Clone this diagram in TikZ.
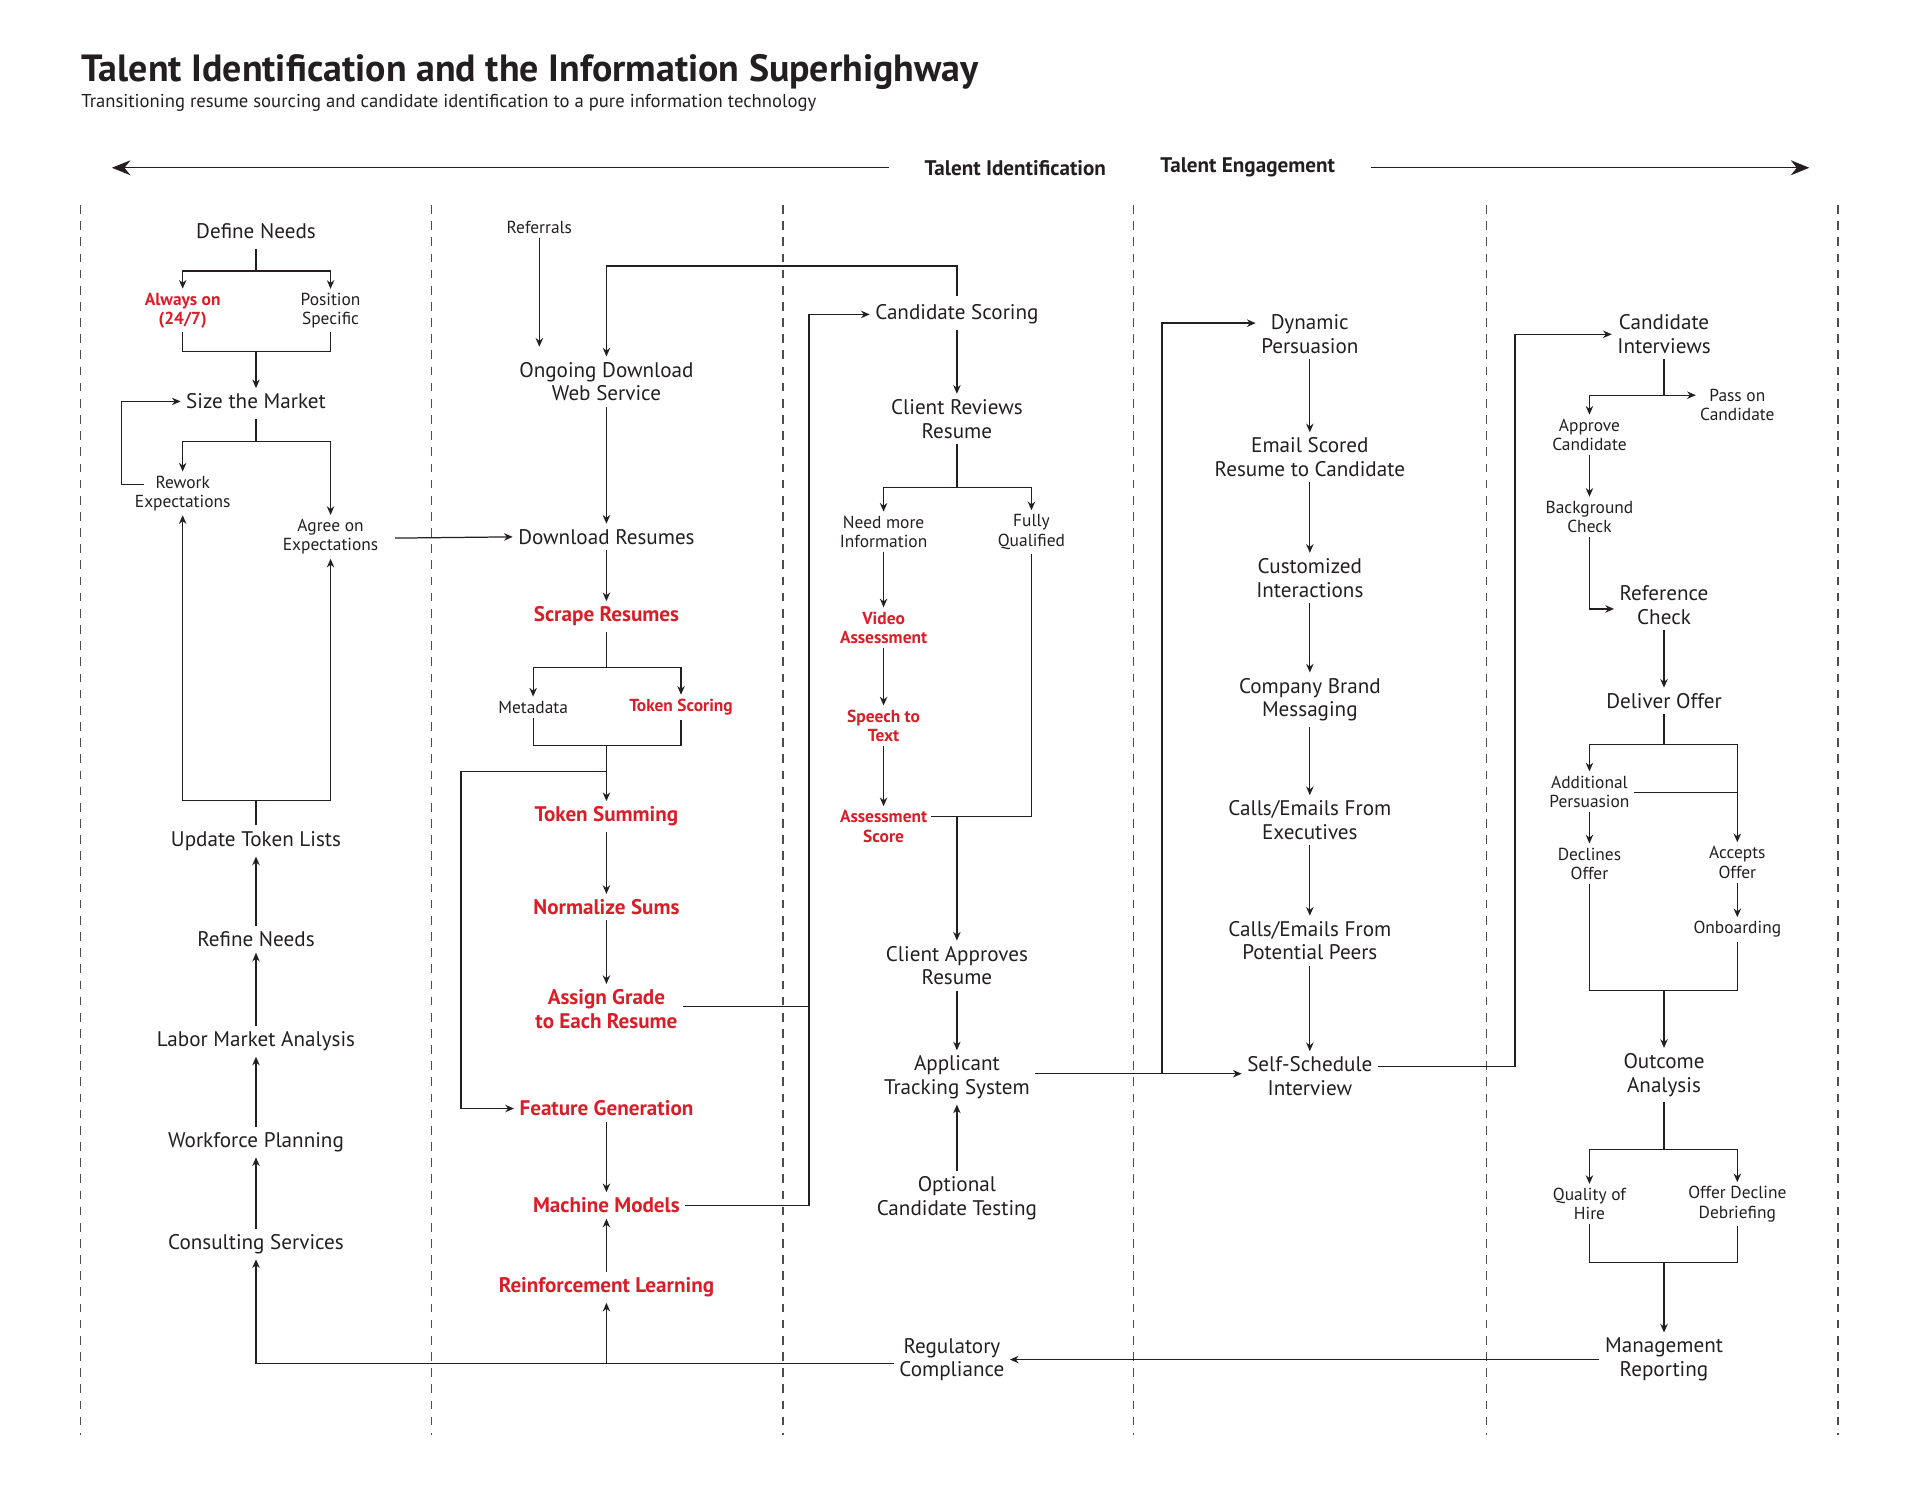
\documentclass[tikz,border=0pt]{standalone}
\usepackage{fontspec}
\setmainfont{PT Sans}
\usetikzlibrary{arrows.meta}
\definecolor{tred}{RGB}{218,30,40}
\definecolor{ink}{RGB}{35,31,32}
\begin{document}
\begin{tikzpicture}[x=1pt,y=-1pt,color=ink,line width=1pt,
 >={Stealth[length=7pt,width=6pt]},
 m/.style={font=\fontsize{17}{19}\selectfont,text=ink,align=center,inner sep=4pt},
 r/.style={m,font=\fontsize{17}{19}\selectfont\bfseries,text=tred},
 s/.style={font=\fontsize{14}{15.5}\selectfont,text=ink,align=center,inner sep=3pt},
 sr/.style={s,font=\fontsize{14}{15.5}\selectfont\bfseries,text=tred},
 dsh/.style={draw=ink!80,line width=1pt,dash pattern=on 7pt off 6pt}]
\useasboundingbox (0,0) rectangle (1545,1195);
% title
\node[anchor=west,inner sep=0,font=\fontsize{30.5}{32}\selectfont\bfseries,text=ink] (title) at (65,58) {Talent Identification and the Information Superhighway};
\node[anchor=west,inner sep=0,font=\fontsize{15}{16}\selectfont,text=ink] (sub) at (65,83) {Transitioning resume sourcing and candidate identification to a pure information technology};
\node[font=\fontsize{17}{19}\selectfont\bfseries,text=ink,inner sep=0] (ti) at (817,135) {Talent Identification};
\node[font=\fontsize{17}{19}\selectfont\bfseries,text=ink,inner sep=0] (te) at (1004,135) {Talent Engagement};
\coordinate (hl) at (90,135); \coordinate (hr) at (1456,135);
\draw[-{Stealth[length=15pt,width=12pt]}] (715,135) -- (hl);
\draw[-{Stealth[length=15pt,width=12pt]}] (1103,135) -- (hr);
% dashed separators
\foreach \x in {65,347,630,912,1196,1479} \draw[dsh] (\x,165) -- (\x,1155);
% ---------- column 1
\node[m] (dn) at (206,186) {Define Needs};
\node[sr] (aon) at (147,250) {Always on\\(24/7)};
\node[s] (ps) at (266,250) {Position\\Specific};
\node[m] (stm) at (206,323) {Size the Market};
\node[s] (rw) at (147,397) {Rework\\Expectations};
\node[s] (ag) at (266,432) {Agree on\\Expectations};
\node[m] (utl) at (206,677) {Update Token Lists};
\node[m] (rn) at (206,756) {Refine Needs};
\node[m] (lma) at (206,838) {Labor Market Analysis};
\node[m] (wp) at (206,919) {Workforce Planning};
\node[m] (cs) at (206,1001) {Consulting Services};
\draw[->] (206,200) -- (206,218) -| (aon.north);
\draw[->] (206,218) -| (ps.north);
\draw (147,267) |- (266,283) -- (266,267);
\draw[->] (206,283) -- (stm.north);
\draw[->] (206,337) -- (206,355) -| (rw.north);
\draw[->] (206,355) -| (ag.north);
\draw[->] (116,390) -- (98,390) |- (stm.west);
\draw[->] (206,664) -- (206,644) -| (rw.south);
\draw[->] (206,644) -| (ag.south);
\draw[->] (rn) -- (utl);
\draw[->] (lma) -- (rn);
\draw[->] (wp) -- (lma);
\draw[->] (cs) -- (wp);
% ---------- column 2
\node[s] (ref) at (434,183) {Referrals};
\node[m] (odw) at (488,307) {Ongoing Download\\Web Service};
\node[m] (dr) at (488,432) {Download Resumes};
\node[r] (sr) at (488,496) {Scrape Resumes};
\node[s] (md) at (429,569) {Metadata};
\node[sr] (tsc) at (548,569) {Token Scoring};
\node[r] (tsum) at (488,657) {Token Summing};
\node[r] (ns) at (488,730) {Normalize Sums};
\node[r] (agr) at (488,812) {Assign Grade\\to Each Resume};
\node[r] (fg) at (488,892) {Feature Generation};
\node[r] (mm) at (488,970) {Machine Models};
\node[r] (rl) at (488,1036) {Reinforcement Learning};
\draw[->] (ref) -- (434,279);
\draw[->] (770,238) -- (770,214) -| (odw.north);
\draw[->] (318,433) -- (dr.west);
\draw[->] (odw) -- (dr);
\draw[->] (dr) -- (sr);
\draw[->] (sr.south) -- (488,537) -| (md.north);
\draw[->] (488,537) -| (tsc.north);
\draw (md.south) |- (548,600) -- (tsc.south);
\draw[->] (488,600) -- (tsum.north);
\draw[->] (488,621) -- (371,621) |- (fg.west);
\draw[->] (tsum) -- (ns);
\draw[->] (ns) -- (agr);
\draw[->] (fg) -- (mm);
\draw[->] (rl) -- (mm);
% ---------- column 3
\node[m] (csc) at (770,253) {Candidate Scoring};
\node[m] (crr) at (770,337) {Client Reviews\\Resume};
\node[s] (nmi) at (711,428) {Need more\\Information};
\node[s] (fq) at (830,428) {Fully\\Qualified};
\node[sr] (va) at (711,505) {Video\\Assessment};
\node[sr] (stt) at (711,584) {Speech to\\Text};
\node[sr] (as) at (711,665) {Assessment\\Score};
\node[m] (car) at (770,777) {Client Approves\\Resume};
\node[m] (ats) at (770,867) {Applicant\\Tracking System};
\node[m] (oct) at (770,964) {Optional\\Candidate Testing};
\draw (agr.east |- 0,810) -- (651,810);
\draw[->] (mm.east) -- (651,970) |- (csc.west);
\draw[->] (csc) -- (crr);
\draw[->] (crr.south) -- (770,392) -| (nmi.north);
\draw[->] (770,392) -| (fq.north);
\draw[->] (nmi) -- (va);
\draw[->] (va) -- (stt);
\draw[->] (stt) -- (as);
\draw (as.east |- 770,657) -- (830,657) -- (fq.south);
\draw[->] (770,657) -- (car.north);
\draw[->] (car) -- (ats);
\draw[->] (oct) -- (ats);
% ---------- column 4
\node[m] (dp) at (1054,269) {Dynamic\\Persuasion};
\node[m] (es) at (1054,368) {Email Scored\\Resume to Candidate};
\node[m] (ci) at (1054,465) {Customized\\Interactions};
\node[m] (cbm) at (1054,563) {Company Brand\\Messaging};
\node[m] (ce) at (1054,660) {Calls/Emails From\\Executives};
\node[m] (cp) at (1054,757) {Calls/Emails From\\Potential Peers};
\node[m] (ssi) at (1054,866) {Self-Schedule\\Interview};
\draw[->] (ats.east |- 770,864) -- (ssi.west |- 770,864);
\draw[->] (935,864) |- (dp.west |- 770,260);
\draw[->] (dp) -- (es);
\draw[->] (es) -- (ci);
\draw[->] (ci) -- (cbm);
\draw[->] (cbm) -- (ce);
\draw[->] (ce) -- (cp);
\draw[->] (cp) -- (ssi);
% ---------- column 5
\node[m] (cin) at (1339,269) {Candidate\\Interviews};
\node[s] (poc) at (1398,326) {Pass on\\Candidate};
\node[s] (apc) at (1279,350) {Approve\\Candidate};
\node[s] (bc) at (1279,416) {Background\\Check};
\node[m] (rc) at (1339,487) {Reference\\Check};
\node[m] (dof) at (1339,564) {Deliver Offer};
\node[s] (ap) at (1279,637) {Additional\\Persuasion};
\node[s] (dcl) at (1279,695) {Declines\\Offer};
\node[s] (acc) at (1398,694) {Accepts\\Offer};
\node[s] (onb) at (1398,748) {Onboarding};
\node[m] (oa) at (1339,865) {Outcome\\Analysis};
\node[s] (qh) at (1279,969) {Quality of\\Hire};
\node[s] (odd) at (1398,969) {Offer Decline\\Debriefing};
\node[m] (mr) at (1339,1094) {Management\\Reporting};
\node[m] (rcm) at (766,1094) {Regulatory\\Compliance};
\draw[->] (ssi.east |- 770,858) -- (1219,858) |- (cin.west);
\draw (cin.south) -- (1339,318);
\draw[->] (1279,318) -- (poc.west |- 770,318);
\draw[->] (1279,318) -- (apc.north);
\draw[->] (apc) -- (bc);
\draw[->] (bc.south) |- (rc.west |- 770,490);
\draw[->] (rc) -- (dof);
\draw[->] (dof.south) -- (1339,599) -| (ap.north);
\draw[->] (1339,599) -| (acc.north);
\draw (ap.east |- 770,638) -- (1398,638);
\draw[->] (ap) -- (dcl);
\draw[->] (acc) -- (onb);
\draw (dcl.south) |- (1398,797) -- (onb.south);
\draw[->] (1339,797) -- (oa.north);
\draw[->] (oa.south) -- (1339,925) -| (qh.north);
\draw[->] (1339,925) -| (odd.north);
\draw (qh.south) |- (1398,1016) -- (odd.south);
\draw[->] (1339,1016) -- (mr.north);
\draw[->] (mr.west) -- (rcm.east);
\draw[->] (rcm.west |- 770,1097) -- (206,1097) -- (cs.south);
\draw[->] (488,1097) -- (rl.south);
\end{tikzpicture}
\end{document}
